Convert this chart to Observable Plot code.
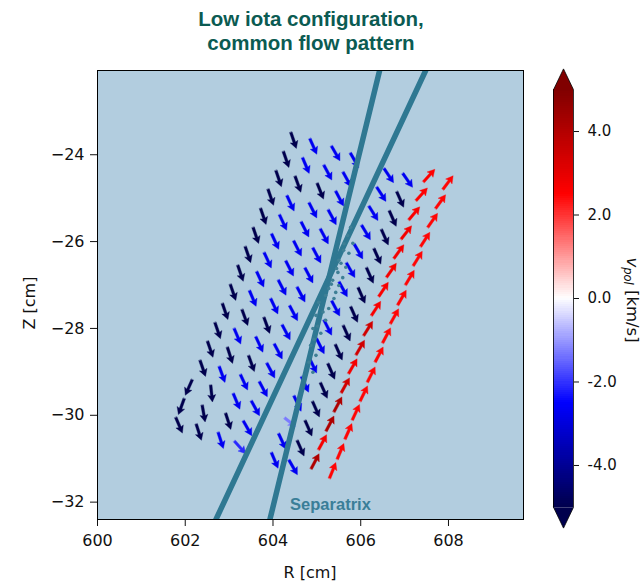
<!DOCTYPE html>
<html>
<head>
<meta charset="utf-8">
<script src="https://cdn.jsdelivr.net/npm/d3@7"></script>
<script src="https://cdn.jsdelivr.net/npm/@observablehq/plot@0.6"></script>
<style>
  html, body { margin: 0; padding: 0; background: #ffffff; }
  #wrap { position: relative; width: 643px; height: 584px; overflow: hidden; background: #ffffff; }
  .abs { position: absolute; }
  #title { left: 0; top: 7px; width: 622px; text-align: center; font: bold 20.5px "Liberation Sans", Arial, sans-serif; line-height: 24px; color: #0b5b52; }
  .axlab { font: 16px "DejaVu Sans", sans-serif; color: #111; white-space: nowrap; }
  #xlab { left: 310px; top: 572px; transform: translate(-50%, -50%); }
  #ylab { left: 29px; top: 303px; transform: translate(-50%, -50%) rotate(-90deg); }
  #cblab { left: 631px; top: 300px; transform: translate(-50%, -50%) rotate(90deg); font-size: 16.5px; }
  #cblab sub { font-size: 11.5px; vertical-align: -3px; }
</style>
</head>
<body>
<div id="wrap">
  <div id="main" class="abs" style="left:0;top:0"></div>
  <div id="cbar" class="abs" style="left:540px;top:0"></div>
  <div id="title" class="abs">Low iota configuration,<br>common flow pattern</div>
  <div id="xlab" class="abs axlab">R [cm]</div>
  <div id="ylab" class="abs axlab">Z [cm]</div>
  <div id="cblab" class="abs axlab"><i>v</i><sub><i>pol</i></sub> [km/s]</div>
</div>
<script>
// ---------------- data ----------------
// Axis ticks
const xTicks = [600, 602, 604, 606, 608];
const yTicks = [-24, -26, -28, -30, -32];
const cbTicks = [-4, -2, 0, 2, 4];

// Arrow columns (R [cm], Z [cm], v_pol [km/s], arrow angle [deg, clockwise from up])
const R1 = [604.47, 604.30, 604.13, 603.95, 603.78, 603.61, 603.43, 603.26, 603.09, 602.91, 602.74, 602.57, 602.40, 602.08, 601.91, 601.86];
const Z1 = [-23.67, -24.11, -24.55, -24.98, -25.42, -25.86, -26.30, -26.73, -27.17, -27.61, -28.05, -28.48, -28.92, -29.36, -29.80, -30.23];
const V1 = [-5.2, -5.2, -5.2, -5.2, -5.2, -5.2, -5.2, -5.2, -5.2, -5.2, -5.2, -5.2, -5.2, -5.2, -5.2, -5.2];
const A1 = [161, 161, 161, 161, 161, 161, 161, 161, 161, 161, 161, 161, 161, 204, 200, 157];

const R2 = [604.92, 604.75, 604.57, 604.40, 604.23, 604.05, 603.88, 603.71, 603.54, 603.36, 603.19, 603.02, 602.84, 602.60, 602.42, 602.31];
const Z2 = [-23.81, -24.25, -24.68, -25.12, -25.56, -26.00, -26.43, -26.87, -27.31, -27.75, -28.18, -28.62, -29.06, -29.50, -29.96, -30.39];
const V2 = [-2.7, -2.7, -5.2, -2.7, -2.7, -2.7, -2.7, -2.7, -2.7, -5.2, -2.7, -5.2, -2.7, -5.2, -5.2, -5.2];
const A2 = [156, 157, 160, 155, 155, 155, 155, 155, 157, 160, 157, 162, 160, 174, 170, 162];

const R3 = [605.43, 605.25, 605.08, 604.91, 604.73, 604.56, 604.38, 604.21, 604.03, 603.86, 603.69, 603.51, 603.34, 603.17, 602.98, 602.81];
const Z3 = [-23.97, -24.41, -24.84, -25.28, -25.72, -26.16, -26.62, -27.06, -27.49, -27.93, -28.37, -28.81, -29.24, -29.68, -30.14, -30.58];
const V3 = [-2.7, -2.7, -5.2, -2.7, -2.7, -2.7, -2.7, -2.7, -2.7, -5.2, -2.7, -5.2, -2.7, -2.7, -5.2, -2.7];
const A3 = [150, 152, 158, 153, 153, 153, 153, 153, 155, 160, 155, 160, 155, 157, 162, 162];

const R4 = [605.86, 605.69, 605.52, 605.35, 605.17, 605.00, 604.82, 604.64, 604.47, 604.30, 604.12, 603.95, 603.78, 603.60, 603.42, 603.25];
const Z4 = [-24.13, -24.57, -25.01, -25.44, -25.88, -26.32, -26.78, -27.22, -27.65, -28.09, -28.53, -28.97, -29.40, -29.84, -30.30, -30.74];
const V4 = [-2.7, -2.7, -2.7, -2.7, -2.7, -2.7, -2.7, -2.7, -2.7, -2.7, -2.7, -2.7, -2.7, -2.7, -2.7, -2.1];
const A4 = [150, 151, 152, 152, 152, 152, 152, 152, 152, 152, 152, 152, 152, 151, 150, 138];

const R6 = [606.64, 606.47, 606.29, 606.12, 605.95, 605.77, 605.60, 605.43, 605.25, 605.08, 604.91, 604.73, 604.56, 604.39, 604.21, 604.04];
const Z6 = [-24.48, -24.91, -25.35, -25.79, -26.23, -26.66, -27.10, -27.54, -27.98, -28.41, -28.85, -29.29, -29.73, -30.16, -30.60, -31.04];
const V6 = [-2.7, -2.7, -2.7, -2.7, -2.7, -2.7, -2.7, -2.7, -2.7, -2.7, -2.7, -2.7, -2.7, -1.3, -2.7, -2.7];
const A6 = [146, 147, 148, 149, 150, 150, 151, 152, 153, 153, 154, 155, 155, 128, 155, 157];

const R7 = [607.07, 606.90, 606.73, 606.55, 606.38, 606.21, 606.02, 605.85, 605.68, 605.50, 605.33, 605.16, 604.98, 604.81, 604.63, 604.46];
const Z7 = [-24.59, -25.03, -25.47, -25.90, -26.34, -26.78, -27.24, -27.68, -28.11, -28.55, -28.99, -29.43, -29.86, -30.30, -30.76, -31.20];
const V7 = [-2.7, -5.2, -5.2, -5.2, -5.2, -5.2, -5.2, -5.2, -5.2, -5.2, -5.2, -5.2, -5.2, -5.2, -5.2, -2.7];
const A7 = [145, 156, 156, 156, 156, 156, 156, 156, 156, 156, 156, 156, 156, 156, 156, 150];

const R8 = [607.56, 607.39, 607.22, 607.04, 606.87, 606.70, 606.52, 606.35, 606.17, 605.99, 605.82, 605.65, 605.48, 605.30, 605.13, 604.96];
const Z8 = [-24.48, -24.91, -25.35, -25.79, -26.23, -26.66, -27.10, -27.54, -28.00, -28.44, -28.87, -29.31, -29.75, -30.19, -30.62, -31.06];
const V8 = [2.5, 2.5, 2.6, 2.7, 2.7, 2.7, 2.6, 2.6, 3.4, 3.4, 2.7, 3.4, 4.1, 4.1, 2.7, 4.1];
const A8 = [42, 42, 40, 38, 36, 35, 34, 33, 32, 30, 30, 29, 28, 28, 28, 28];

const R9 = [607.99, 607.82, 607.64, 607.47, 607.30, 607.12, 606.94, 606.77, 606.59, 606.42, 606.24, 606.07, 605.89, 605.72, 605.54, 605.36];
const Z9 = [-24.64, -25.08, -25.51, -25.95, -26.39, -26.83, -27.29, -27.72, -28.16, -28.60, -29.06, -29.50, -29.93, -30.37, -30.83, -31.27];
const V9 = [2.45, 2.45, 2.45, 2.45, 2.45, 2.45, 2.45, 2.45, 2.45, 2.45, 2.45, 2.45, 2.45, 2.45, 2.45, 2.45];
const A9 = [37, 36, 35, 33, 32, 31, 30, 29, 28, 28, 27, 26, 25, 24, 23, 22];

// Separatrix traces (end points, R/Z in cm)
const sepA_R = [602.70, 607.48];
const sepA_Z = [-32.40, -22.06];
const sepB_R = [603.93, 606.43];
const sepB_Z = [-32.40, -22.06];
// scattered separatrix points near the X-crossing
const dotR = [605.77, 605.70, 605.82, 605.61, 605.73, 605.50, 605.66, 605.48, 605.59, 605.36, 605.50, 605.27, 605.43, 605.20, 605.39, 605.04, 605.27, 604.98, 605.20, 604.91, 605.09, 604.86, 604.98, 604.82, 604.91, 605.62, 605.55, 605.45, 605.33, 605.14, 605.02, 604.93];
const dotZ = [-25.67, -25.86, -26.04, -26.20, -26.27, -26.43, -26.59, -26.71, -26.83, -26.89, -27.01, -27.08, -27.17, -27.24, -27.31, -27.40, -27.54, -27.70, -27.81, -28.00, -28.11, -28.39, -28.62, -28.78, -29.01, -26.05, -26.50, -26.62, -26.98, -27.62, -27.95, -28.25];

// ---------------- build tables ----------------
const columns = [[R1, Z1, V1, A1], [R2, Z2, V2, A2], [R3, Z3, V3, A3], [R4, Z4, V4, A4],
                 [R6, Z6, V6, A6], [R7, Z7, V7, A7], [R8, Z8, V8, A8], [R9, Z9, V9, A9]];
const arrows = columns.flatMap(([R, Z, V, A]) => R.map((r, i) => ({R: r, Z: Z[i], v: V[i], a: A[i]})));
const sepA = sepA_R.map((r, i) => ({R: r, Z: sepA_Z[i]}));
const sepB = sepB_R.map((r, i) => ({R: r, Z: sepB_Z[i]}));
const dots = dotR.map((r, i) => ({R: r, Z: dotZ[i]}));

// matplotlib "seismic" colormap
const seismicStops = ["#00004d", "#0000ff", "#ffffff", "#ff0000", "#800000"];
const seismic = d3.scaleLinear().domain([0, 0.25, 0.5, 0.75, 1]).range(seismicStops).interpolate(d3.interpolateRgb).clamp(true);
const colorOpts = {type: "linear", domain: [-5, 5], interpolate: (t) => seismic(t), clamp: true};

// filled quiver-style arrow, drawn pointing up from tail (0,0) to head (0,-l)
const quiverArrow = {
  draw(ctx, l) {
    const sw = 1.35, hw = 4.0, hl = 7.2, hal = 6.3;
    ctx.moveTo(-sw, 0);
    ctx.lineTo(-sw, -l + hal);
    ctx.lineTo(-hw, -l + hl);
    ctx.lineTo(0, -l);
    ctx.lineTo(hw, -l + hl);
    ctx.lineTo(sw, -l + hal);
    ctx.lineTo(sw, 0);
    ctx.closePath();
  }
};
const LONG = 17, SHORT = 14;

const teal = "#2f7892";

const main = Plot.plot({
  width: 523,
  height: 584,
  marginLeft: 97,
  marginRight: 0,
  marginTop: 70,
  marginBottom: 65,
  style: {fontFamily: "DejaVu Sans, sans-serif", fontSize: "16px", color: "#111", background: "transparent", overflow: "visible"},
  x: {domain: [600, 609.71], ticks: xTicks, tickFormat: (d) => String(d), tickSize: 7, tickPadding: 8, label: null},
  y: {domain: [-32.4, -22.06], ticks: yTicks, tickFormat: (d) => "\u2212" + Math.abs(d), tickSize: 7, tickPadding: 6, label: null},
  color: colorOpts,
  marks: [
    Plot.frame({fill: "#b2cddf", stroke: "none"}),
    Plot.vector(arrows, {x: "R", y: "Z", rotate: "a", length: LONG, anchor: "middle", shape: quiverArrow,
      fill: "v", stroke: "v", strokeWidth: 0.35, filter: (d) => Math.abs(d.v) >= 2}),
    Plot.vector(arrows, {x: "R", y: "Z", rotate: "a", length: SHORT, anchor: "middle", shape: quiverArrow,
      fill: "v", stroke: "v", strokeWidth: 0.35, filter: (d) => Math.abs(d.v) < 2}),
    Plot.line(sepA, {x: "R", y: "Z", stroke: teal, strokeWidth: 5.5, clip: true}),
    Plot.line(sepB, {x: "R", y: "Z", stroke: teal, strokeWidth: 5.5, clip: true}),
    Plot.dot(dots, {x: "R", y: "Z", r: 1.8, fill: "#3e7f95", stroke: "none"}),
    Plot.text([{R: 605.31, Z: -32.07}], {x: "R", y: "Z", text: () => "Separatrix", fontSize: 16.5, fontWeight: "bold",
      fontFamily: "Liberation Sans, Arial, sans-serif", fill: "#3a7e98"}),
    Plot.frame({stroke: "#000", strokeWidth: 1, fill: "none"})
  ]
});
document.getElementById("main").appendChild(main);

// ---------------- colorbar ----------------
const cbSteps = d3.range(-5, 5, 0.05);
const cbOutline = [{x: 0, v: -5}, {x: 0, v: 5}, {x: 0.5, v: 5.5}, {x: 1, v: 5}, {x: 1, v: -5}, {x: 0.5, v: -5.5}, {x: 0, v: -5}];
const cbTop = [{x: 0, v: 5}, {x: 0.5, v: 5.5}, {x: 1, v: 5}, {x: 0, v: 5}];
const cbBot = [{x: 0, v: -5}, {x: 0.5, v: -5.5}, {x: 1, v: -5}, {x: 0, v: -5}];

const cbar = Plot.plot({
  width: 103,
  height: 584,
  marginLeft: 13,
  marginRight: 70,
  marginTop: 68.4,
  marginBottom: 56.4,
  style: {fontFamily: "DejaVu Sans, sans-serif", fontSize: "15px", color: "#111", background: "transparent", overflow: "visible"},
  x: {domain: [0, 1], axis: null},
  y: {domain: [-5.5, 5.5], axis: "right", ticks: cbTicks, tickFormat: (d) => d.toFixed(1), tickSize: 5, tickPadding: 9, label: null},
  color: colorOpts,
  marks: [
    Plot.rect(cbSteps, {x1: 0, x2: 1, y1: (d) => d, y2: (d) => d + 0.06, fill: (d) => d + 0.025, shapeRendering: "crispEdges"}),
    Plot.line(cbTop, {x: "x", y: "v", fill: seismicStops[4], stroke: "none"}),
    Plot.line(cbBot, {x: "x", y: "v", fill: seismicStops[0], stroke: "none"}),
    Plot.line(cbOutline, {x: "x", y: "v", stroke: "#000", strokeWidth: 0.8})
  ]
});
document.getElementById("cbar").appendChild(cbar);
</script>
</body>
</html>
